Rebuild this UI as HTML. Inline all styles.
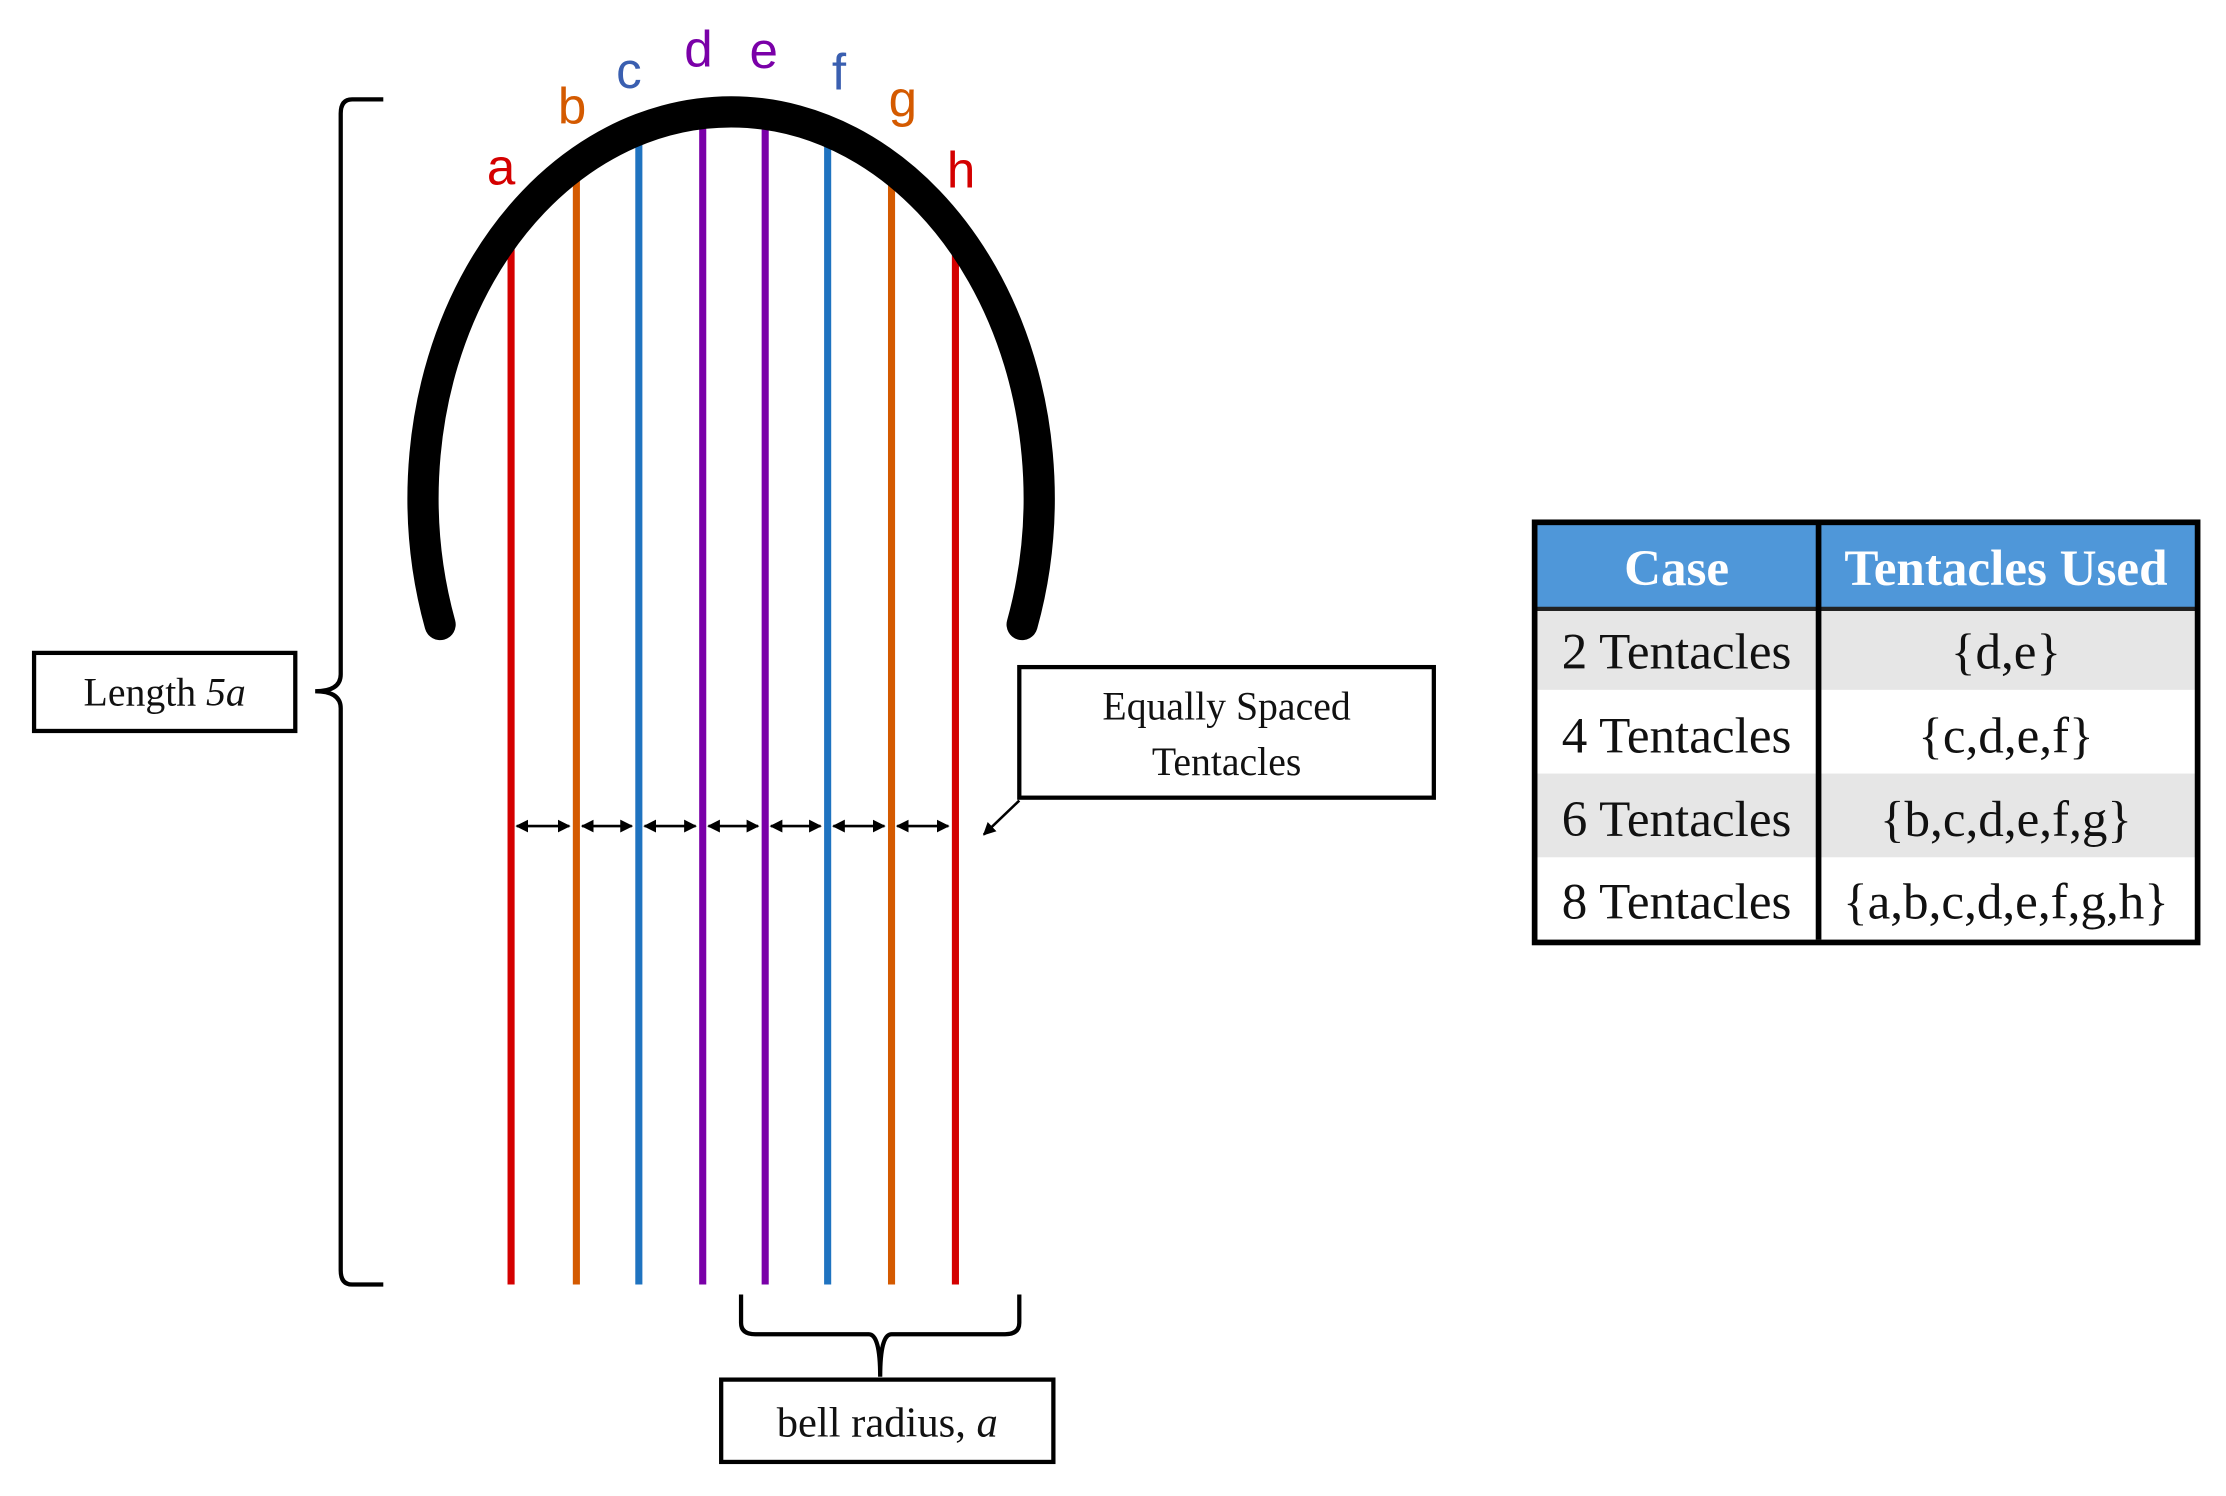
<!DOCTYPE html>
<html><head><meta charset="utf-8"><style>
html,body{margin:0;padding:0;background:#fff;}
svg{display:block}
.s{font-family:"Liberation Sans",sans-serif;font-size:36px;text-anchor:middle}
.t{font-family:"Liberation Serif",serif;font-size:30px;text-anchor:middle;fill:#111}
</style></head><body>
<svg width="2226" height="1496" viewBox="0 0 1568 1054" preserveAspectRatio="none" xmlns="http://www.w3.org/2000/svg">
<defs>
<marker id="ah" viewBox="0 0 10 10" refX="9" refY="5" markerWidth="5" markerHeight="5" orient="auto-start-reverse"><path d="M0,0 L10,5 L0,10 z" fill="#000"/></marker>
</defs>
<g stroke-width="5">
<line x1="360" y1="170" x2="360" y2="905" stroke="#d40000"/>
<line x1="406" y1="120" x2="406" y2="905" stroke="#d45a00"/>
<line x1="450" y1="95" x2="450" y2="905" stroke="#1f73c0"/>
<line x1="495" y1="82" x2="495" y2="905" stroke="#7a00a8"/>
<line x1="539" y1="82" x2="539" y2="905" stroke="#7a00a8"/>
<line x1="583" y1="95" x2="583" y2="905" stroke="#1f73c0"/>
<line x1="628" y1="120" x2="628" y2="905" stroke="#d45a00"/>
<line x1="673" y1="170" x2="673" y2="905" stroke="#d40000"/>
</g>
<path d="M310,440 A217 272 0 1 1 720,440" fill="none" stroke="#000" stroke-width="22" stroke-linecap="round"/>
<text class="s" x="353" y="130" fill="#d40000">a</text>
<text class="s" x="403" y="87" fill="#d45a00">b</text>
<text class="s" x="443" y="62" fill="#3a5fb0">c</text>
<text class="s" x="492" y="47" fill="#7a00a8">d</text>
<text class="s" x="538" y="48" fill="#7a00a8">e</text>
<text class="s" x="591" y="63" fill="#3a5fb0">f</text>
<text class="s" x="636" y="82" fill="#d45a00">g</text>
<text class="s" x="677" y="132" fill="#d40000">h</text>
<g stroke="#000" stroke-width="1.8" marker-start="url(#ah)" marker-end="url(#ah)">
<line x1="364" y1="582" x2="401" y2="582"/>
<line x1="410" y1="582" x2="445" y2="582"/>
<line x1="454" y1="582" x2="490" y2="582"/>
<line x1="499" y1="582" x2="534" y2="582"/>
<line x1="543" y1="582" x2="578" y2="582"/>
<line x1="587" y1="582" x2="623" y2="582"/>
<line x1="632" y1="582" x2="668" y2="582"/>
</g>
<line x1="718" y1="564" x2="693" y2="588" stroke="#000" stroke-width="1.8" marker-end="url(#ah)"/>
<path d="M270,70 L248,70 Q240,70 240,80 L240,475 Q240,487 222,487 Q240,487 240,499 L240,895 Q240,905 248,905 L270,905" fill="none" stroke="#000" stroke-width="3"/>
<path d="M522,912 L522,932 Q522,940 532,940 L612,940 Q620,940 620,970 Q620,940 628,940 L708,940 Q718,940 718,932 L718,912" fill="none" stroke="#000" stroke-width="3"/>
<rect x="24" y="460" width="184" height="55" fill="#fff" stroke="#000" stroke-width="3"/>
<text class="t" x="116" y="497" style="font-size:28px">Length <tspan font-style="italic">5a</tspan></text>
<rect x="718" y="470" width="292" height="92" fill="#fff" stroke="#000" stroke-width="3"/>
<text class="t" x="864" y="507" style="font-size:28px">Equally Spaced</text>
<text class="t" x="864" y="546" style="font-size:28px">Tentacles</text>
<rect x="508" y="972" width="234" height="58" fill="#fff" stroke="#000" stroke-width="3"/>
<text class="t" x="625" y="1012">bell radius, <tspan font-style="italic">a</tspan></text>
<rect x="1082" y="369" width="465" height="60" fill="#4f97d9"/>
<rect x="1082" y="429" width="465" height="57" fill="#e6e6e6"/>
<rect x="1082" y="545" width="465" height="59" fill="#e6e6e6"/>
<line x1="1082" y1="429" x2="1547" y2="429" stroke="#222" stroke-width="3"/>
<line x1="1281" y1="369" x2="1281" y2="662" stroke="#000" stroke-width="4"/>
<rect x="1081" y="368" width="467" height="296" fill="none" stroke="#000" stroke-width="4"/>
<g class="t" style="font-size:36px">
<text x="1181" y="412" font-weight="bold" style="fill:#fff">Case</text>
<text x="1413" y="412" font-weight="bold" style="fill:#fff">Tentacles Used</text>
<text x="1181" y="471">2 Tentacles</text>
<text x="1413" y="471">{d,e}</text>
<text x="1181" y="530">4 Tentacles</text>
<text x="1413" y="530">{c,d,e,f}</text>
<text x="1181" y="589">6 Tentacles</text>
<text x="1413" y="589">{b,c,d,e,f,g}</text>
<text x="1181" y="647">8 Tentacles</text>
<text x="1413" y="647">{a,b,c,d,e,f,g,h}</text>
</g>
</svg>
</body></html>
